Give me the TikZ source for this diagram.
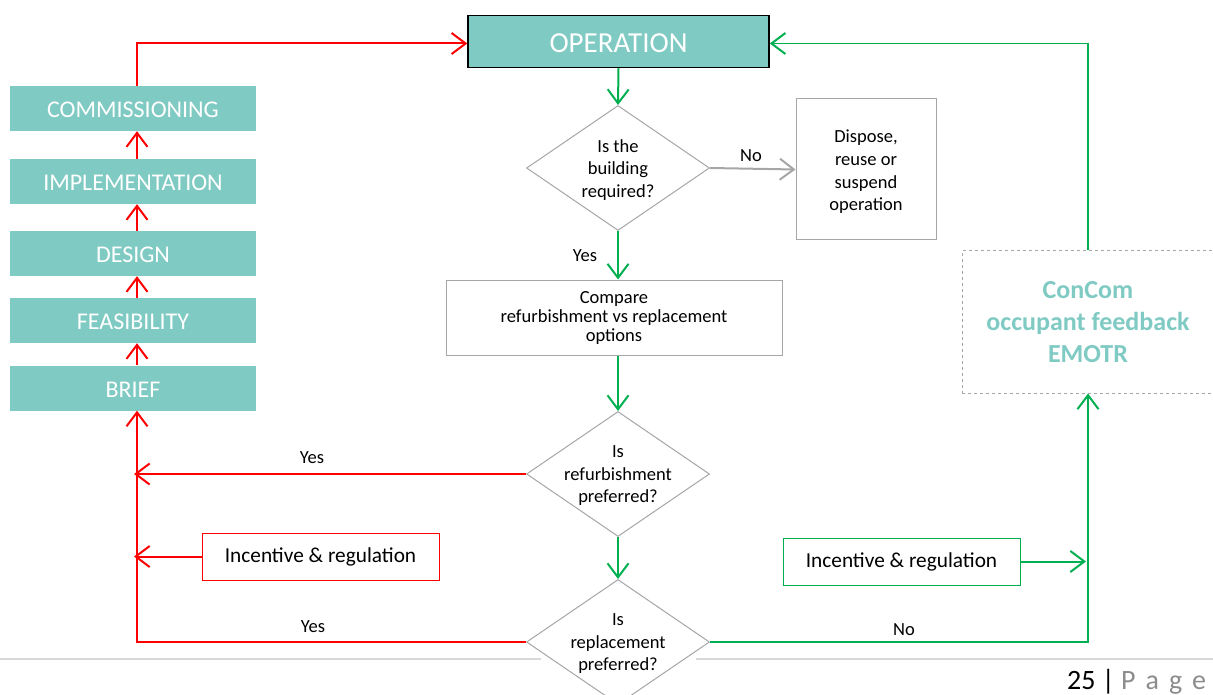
\documentclass[tikz,border=0pt]{standalone}
\usepackage{fontspec}
\setmainfont{Carlito}
\usetikzlibrary{arrows.meta,shapes.geometric}
\definecolor{teal}{RGB}{127,202,195}
\definecolor{ored}{RGB}{255,0,0}
\definecolor{ogreen}{RGB}{0,176,80}
\definecolor{lgray}{RGB}{166,166,166}
\definecolor{rulegray}{RGB}{217,217,217}
\definecolor{pagegray}{RGB}{140,140,140}
\tikzset{
  barb/.tip={Straight Barb[length=14pt,width=21pt,line width=2pt]},
  stagebox/.style={rectangle,fill=teal,text=white,minimum width=246pt,minimum height=45pt,
    inner sep=0pt,text height=20pt,text depth=2pt,font=\fontsize{24}{28}\selectfont},
  opbox/.style={rectangle,fill=teal,draw=black,line width=1.5pt,text=white,minimum width=301pt,
    minimum height=52pt,inner sep=0pt,text height=25pt,text depth=2pt,font=\fontsize{29}{32}\selectfont},
  decision/.style={diamond,draw=lgray,line width=1pt,fill=white,minimum width=183pt,minimum height=125pt,inner sep=0pt},
  qtext/.style={align=center,font=\fontsize{18.5}{22.5}\selectfont,inner sep=0pt},
  plainbox/.style={rectangle,draw=lgray,line width=1pt,align=center,inner sep=0pt,font=\fontsize{18.5}{22.7}\selectfont},
  incbox/.style={rectangle,line width=1pt,minimum width=237pt,minimum height=47pt,inner sep=0pt,
    font=\fontsize{21.3}{25}\selectfont},
  lbl/.style={font=\fontsize{18.5}{22}\selectfont,inner sep=0pt,text=black},
  redline/.style={draw=ored,line width=2pt},
  greenline/.style={draw=ogreen,line width=2pt},
}
\begin{document}
\begin{tikzpicture}[x=1pt,y=-1pt]
\useasboundingbox (0,0) rectangle (1213,695);
\clip (0,0) rectangle (1213,695);

% footer rule
\draw[rulegray,line width=1.5pt] (0,659) -- (541,659);
\draw[rulegray,line width=1.5pt] (696,659) -- (1213,659);

% project stages
\node[opbox] (op) at (618.5,41.5) {OPERATION};
\node[stagebox] (comm) at (133,108.5) {COMMISSIONING};
\node[stagebox] (impl) at (133,181.5) {IMPLEMENTATION};
\node[stagebox] (design) at (133,253.5) {DESIGN};
\node[stagebox] (feas) at (133,320.5) {FEASIBILITY};
\node[stagebox] (brief) at (133,388) {BRIEF};

% decisions
\node[decision] (q1) at (618,168) {};
\node[qtext] (q1t) at (618,170) {Is the\\building\\required?};
\node[decision] (q2) at (618,474) {};
\node[qtext] (q2t) at (618,476) {Is\\refurbishment\\preferred?};
\node[decision] (q3) at (618,642) {};
\node[qtext] (q3t) at (618,644) {Is\\replacement\\preferred?};

% boxes
\node[plainbox,minimum width=140pt,minimum height=141pt] (disp) at (866,169.5) {};
\node[qtext,font=\fontsize{18.5}{22.7}\selectfont] (dispt) at (866,172) {Dispose,\\reuse or\\suspend\\operation};
\node[plainbox,minimum width=336pt,minimum height=75pt,font=\fontsize{18.5}{19}\selectfont] (cmp) at (614,317.5) {Compare\\refurbishment vs replacement\\options};
\node[incbox,draw=ored] (incr) at (320.5,556.5) {Incentive \& regulation};
\node[incbox,draw=ogreen] (incg) at (901.5,561.5) {Incentive \& regulation};
\node[rectangle,draw=lgray,dashed,line width=1pt,minimum width=252pt,minimum height=142pt,
  align=center,text=teal,font=\bfseries\fontsize{26}{32}\selectfont,inner sep=0pt] (cc) at (1088,322)
  {ConCom\\occupant feedback\\EMOTR};

% spine of the stage sequence
\coordinate (spine) at (137,0);

% red connectors
\draw[redline,-barb] ([xshift=4pt]feas.north) -- ([xshift=4pt]design.south);
\draw[redline,-barb] ([xshift=4pt]brief.north) -- ([xshift=4pt]feas.south);
\draw[redline,-barb] ([xshift=4pt]design.north) -- ([xshift=4pt]impl.south);
\draw[redline,-barb] ([xshift=4pt]impl.north) -- ([xshift=4pt]comm.south);
\draw[redline,-barb] ([xshift=4pt]comm.north) |- ([yshift=-2pt]op.west);
\draw[redline,-barb,shorten >=-3pt] (q2.west) -- (q2.west -| spine) node[lbl,pos=0.55,above=9pt] (yes2) {Yes};
\draw[redline,-barb] (q3.west) -| ([xshift=4pt]brief.south);
\node[lbl] (yes3) at (313,627) {Yes};
\draw[redline,-barb,shorten >=-3pt] (incr.west) -- (incr.west -| spine);

% green connectors
\draw[greenline,-barb] (op.south) -- (q1.north);
\draw[greenline,-barb] (q1.south) -- (q1.south |- cmp.north) node[lbl,pos=0.5,left=20pt] (yes1) {Yes};
\draw[greenline,-barb] (q1.south |- cmp.south) -- (q2.north);
\draw[greenline,-barb] (q2.south) -- (q3.north);
\draw[greenline,-barb] (q3.east) -| (cc.south);
\node[lbl] (no3) at (904,630) {No};
\draw[greenline,-barb,shorten >=2pt] (incg.east) -- (incg.east -| cc.south);
\draw[greenline,line width=1.5pt,-barb] (cc.north) |- ([yshift=-2pt]op.east);

% gray connector
\draw[lgray,line width=2pt,-barb] (q1.east) -- (disp.west) node[lbl,pos=0.48,above=6pt] (no1) {No};

% page number
\node[anchor=base west,inner sep=0pt,font=\fontsize{28}{30}\selectfont] (pg) at (1067,689)
  {25 | \textcolor{pagegray}{P\hspace{10pt}a\hspace{10pt}g\hspace{10pt}e}};
\end{tikzpicture}
\end{document}
